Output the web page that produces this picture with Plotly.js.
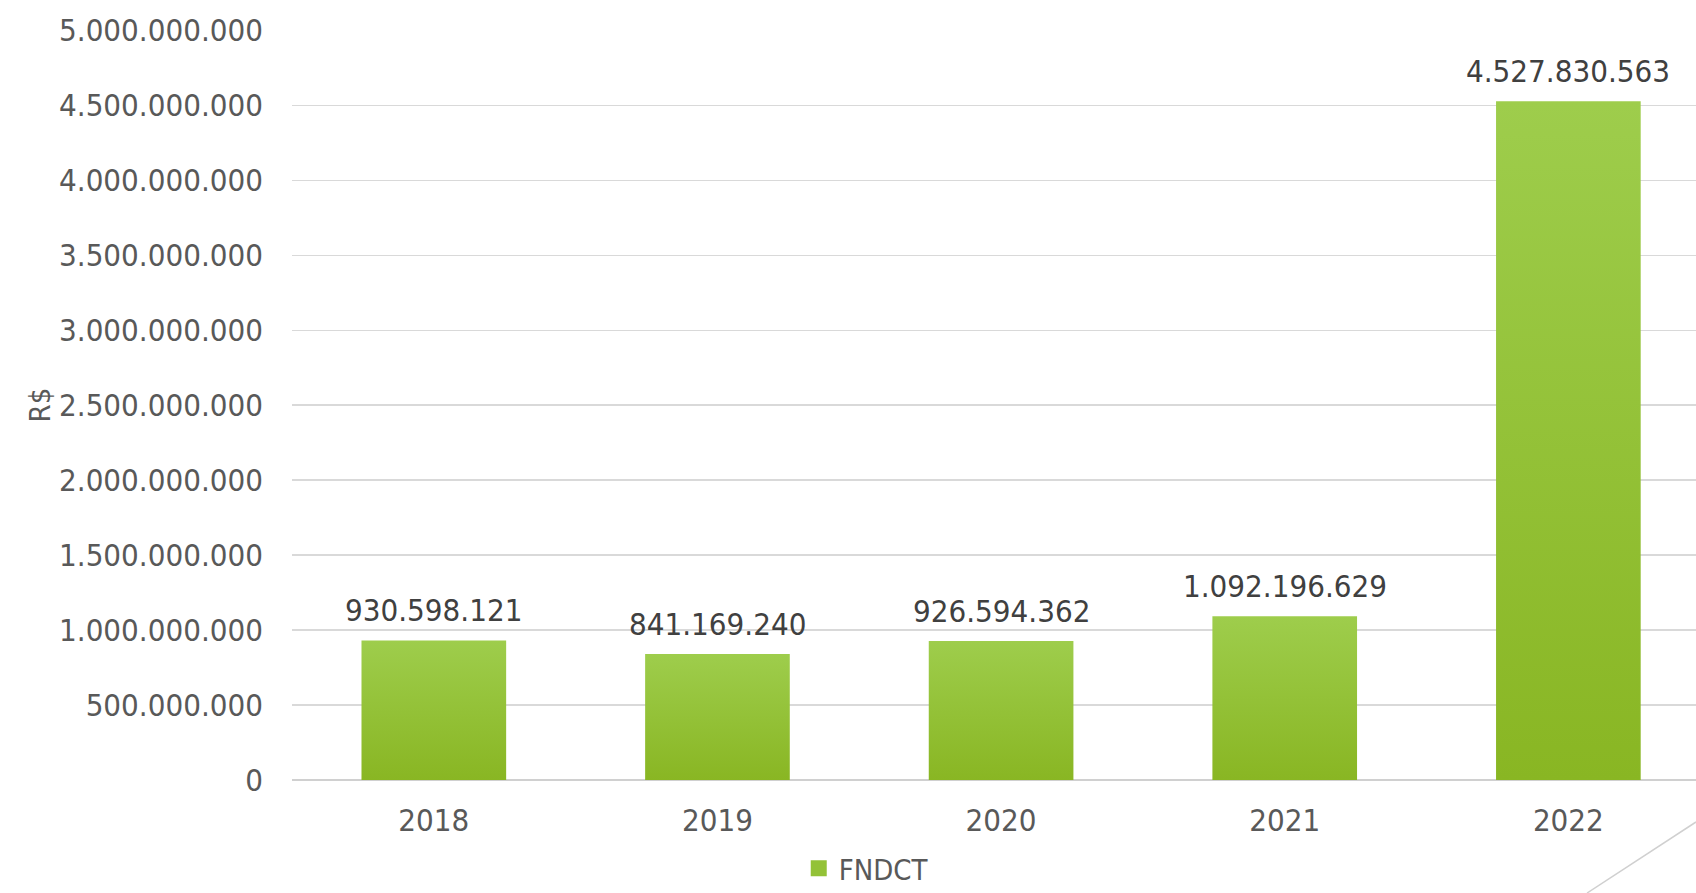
<!DOCTYPE html>
<html>
<head>
<meta charset="utf-8">
<script src="https://cdn.plot.ly/plotly-3.0.1.min.js"></script>
<style>
html,body{margin:0;padding:0;background:#fff;overflow:hidden;width:1696px;height:893px;}
#chart{position:absolute;left:0;top:0;width:1696px;height:893px;overflow:hidden;}
</style>
</head>
<body>
<div id="chart"></div>
<script>
const years = ['2018', '2019', '2020', '2021', '2022'];
const fndct = [930598121, 841169240, 926594362, 1092196629, 4527830563];
const seriesName = 'FNDCT';
const yTicks = [0, 500000000, 1000000000, 1500000000, 2000000000, 2500000000, 3000000000, 3500000000, 4000000000, 4500000000, 5000000000];

function fmt(v) {
  return String(v).replace(/\B(?=(\d{3})+(?!\d))/g, '.');
}

const FONT = '"DejaVu Sans Condensed", "DejaVu Sans", sans-serif';

const traces = [
  {
    type: 'bar',
    x: years,
    y: fndct,
    width: 0.51,
    marker: {color: '#93c237', line: {width: 0}},
    showlegend: false,
    hoverinfo: 'x+y'
  },
  {
    type: 'scatter',
    mode: 'markers',
    x: [null],
    y: [null],
    name: seriesName,
    marker: {symbol: 'square', size: 17, color: '#93c237'},
    showlegend: true
  }
];

const annotations = years.map((yr, i) => ({
  x: i, y: fndct[i], xref: 'x', yref: 'y',
  text: fmt(fndct[i]),
  showarrow: false,
  yanchor: 'bottom',
  yshift: 10,
  font: {family: FONT, size: 31, color: '#404040'}
}));

// figure is drawn slightly taller than the window (legend room); the page clips it at 893px
const layout = {
  width: 1696,
  height: 930,
  margin: {l: 292, r: 0, t: 30, b: 150},
  paper_bgcolor: '#ffffff',
  plot_bgcolor: '#ffffff',
  separators: ',.',
  font: {family: FONT, size: 31, color: '#595959'},
  xaxis: {
    type: 'category',
    range: [-0.5, 4.45],
    showgrid: false,
    zeroline: false,
    showline: false,
    ticks: '',
    ticklabelstandoff: 19,
    tickfont: {family: FONT, size: 31, color: '#595959'},
    fixedrange: true
  },
  yaxis: {
    range: [0, 5003000000],
    tickvals: yTicks,
    ticktext: yTicks.map(fmt),
    showgrid: true,
    gridcolor: '#d9d9d9',
    gridwidth: 1.5,
    zeroline: true,
    zerolinecolor: '#d0d0d0',
    zerolinewidth: 2,
    showline: false,
    ticks: '',
    ticklabelstandoff: 28,
    tickfont: {family: FONT, size: 31, color: '#595959'},
    title: {text: 'R$', font: {family: FONT, size: 29, color: '#595959'}},
    automargin: false,
    fixedrange: true
  },
  showlegend: true,
  legend: {
    orientation: 'h',
    x: 0.409, xanchor: 'center',
    y: -0.118, yanchor: 'middle',
    font: {family: FONT, size: 29, color: '#595959'},
    itemwidth: 30,
    bgcolor: 'rgba(0,0,0,0)'
  },
  annotations: annotations,
  shapes: [{
    type: 'line', xref: 'paper', yref: 'paper',
    x0: 0.9224, y0: -0.1507, x1: 1.0, y1: -0.056,
    line: {color: '#d0d0d0', width: 1.5}
  }]
};

function applyGradient(gd) {
  const svg = gd.querySelector('svg.main-svg');
  if (!svg) return;
  let defs = svg.querySelector('defs');
  if (!defs) {
    defs = document.createElementNS('http://www.w3.org/2000/svg', 'defs');
    svg.insertBefore(defs, svg.firstChild);
  }
  if (!svg.querySelector('#barGrad')) {
    const lg = document.createElementNS('http://www.w3.org/2000/svg', 'linearGradient');
    lg.setAttribute('id', 'barGrad');
    lg.setAttribute('x1', '0'); lg.setAttribute('y1', '0');
    lg.setAttribute('x2', '0'); lg.setAttribute('y2', '1');
    [['0', '#9ecd4c'], ['1', '#89b623']].forEach(([o, c]) => {
      const s = document.createElementNS('http://www.w3.org/2000/svg', 'stop');
      s.setAttribute('offset', o);
      s.setAttribute('stop-color', c);
      lg.appendChild(s);
    });
    defs.appendChild(lg);
  }
  gd.querySelectorAll('.barlayer .trace.bars .point path').forEach(p => {
    p.style.fill = 'url(#barGrad)';
  });
}

const gd = document.getElementById('chart');
Plotly.newPlot(gd, traces, layout, {displayModeBar: false, staticPlot: true}).then(() => {
  applyGradient(gd);
  gd.on && gd.on('plotly_afterplot', () => applyGradient(gd));
});
</script>
</body>
</html>
